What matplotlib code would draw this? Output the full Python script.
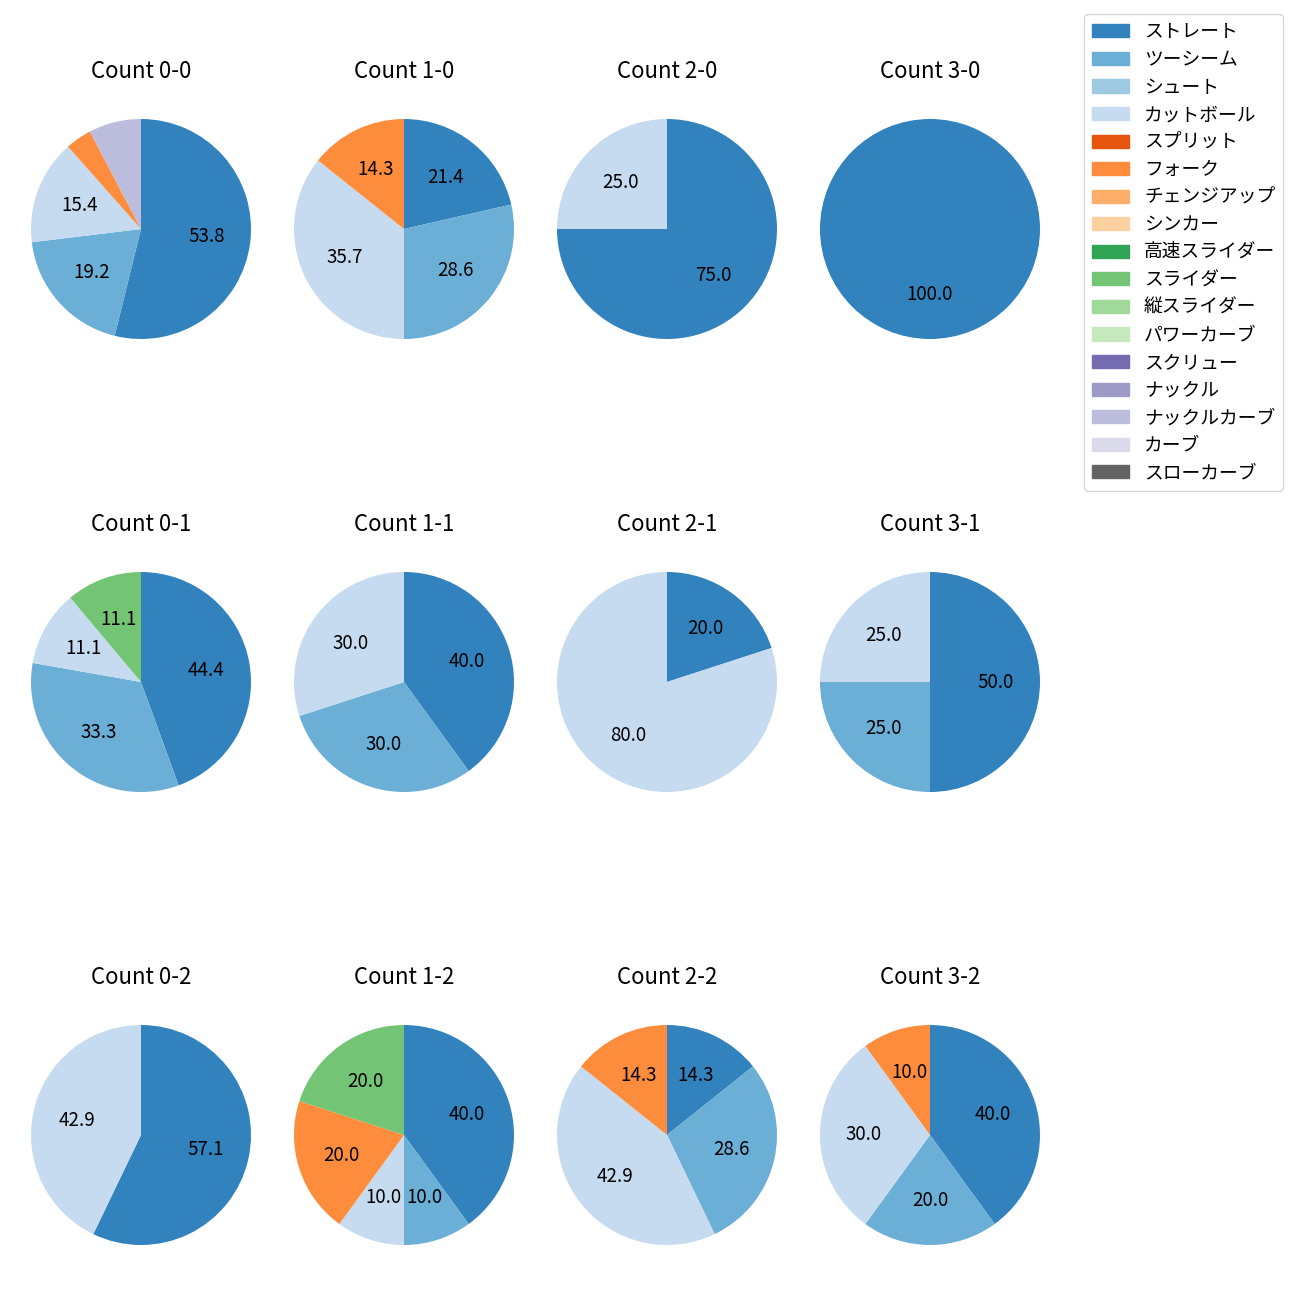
import matplotlib as mpl
import matplotlib.pyplot as plt
from matplotlib.patches import Patch

# pitch types and colours (tab20c order)
pitch_types = ['ストレート', 'ツーシーム', 'シュート', 'カットボール', 'スプリット', 'フォーク',
               'チェンジアップ', 'シンカー', '高速スライダー', 'スライダー', '縦スライダー',
               'パワーカーブ', 'スクリュー', 'ナックル', 'ナックルカーブ', 'カーブ', 'スローカーブ']
colors = ['#3182bd', '#6baed6', '#9ecae1', '#c6dbef', '#e6550d', '#fd8d3c',
          '#fdae6b', '#fdd0a2', '#31a354', '#74c476', '#a1d99b', '#c7e9c0',
          '#756bb1', '#9e9ac8', '#bcbddc', '#dadaeb', '#636363']

# pitch counts per ball-strike count (only non-zero types)
count_labels = ['0-0', '1-0', '2-0', '3-0',
                '0-1', '1-1', '2-1', '3-1',
                '0-2', '1-2', '2-2', '3-2']
pitches = {
    '0-0': {'ストレート': 14, 'ツーシーム': 5, 'カットボール': 4, 'フォーク': 1, 'ナックルカーブ': 2},
    '1-0': {'ストレート': 3, 'ツーシーム': 4, 'カットボール': 5, 'フォーク': 2},
    '2-0': {'ストレート': 3, 'カットボール': 1},
    '3-0': {'ストレート': 1},
    '0-1': {'ストレート': 4, 'ツーシーム': 3, 'カットボール': 1, 'スライダー': 1},
    '1-1': {'ストレート': 4, 'ツーシーム': 3, 'カットボール': 3},
    '2-1': {'ストレート': 1, 'カットボール': 4},
    '3-1': {'ストレート': 2, 'ツーシーム': 1, 'カットボール': 1},
    '0-2': {'ストレート': 4, 'カットボール': 3},
    '1-2': {'ストレート': 4, 'ツーシーム': 1, 'カットボール': 1, 'フォーク': 2, 'スライダー': 2},
    '2-2': {'ストレート': 1, 'ツーシーム': 2, 'カットボール': 3, 'フォーク': 1},
    '3-2': {'ストレート': 4, 'ツーシーム': 2, 'カットボール': 3, 'フォーク': 1},
}

# configuration
mpl.rcParams['font.family'] = ['Noto Sans CJK JP', 'DejaVu Sans']
mpl.rcParams['font.size'] = 13.5

fig = plt.figure(figsize=(13, 13), dpi=100)

col_x = [141, 404, 667, 930]
row_y = [229, 682, 1135]
box = 275

for i, c in enumerate(count_labels):
    r, k = divmod(i, 4)
    cx, cy = col_x[k], row_y[r]
    ax = fig.add_axes([(cx - box / 2) / 1300, (1300 - cy - box / 2) / 1300,
                       box / 1300, box / 1300])
    d = pitches[c]
    names = [p for p in pitch_types if p in d]
    vals = [d[p] for p in names]
    cols = [colors[pitch_types.index(p)] for p in names]
    ax.pie(vals, colors=cols, startangle=90, counterclock=False,
           autopct=lambda p: f'{p:.1f}' if p >= 10 else '')
    ax.set_title('Count ' + c, fontsize=16, pad=10)

# legend
handles = [Patch(color=col) for col in colors]
fig.legend(handles, pitch_types, loc='upper right', bbox_to_anchor=(0.994, 0.9965),
           labelspacing=0.35)

plt.savefig('out.png', dpi=100)
